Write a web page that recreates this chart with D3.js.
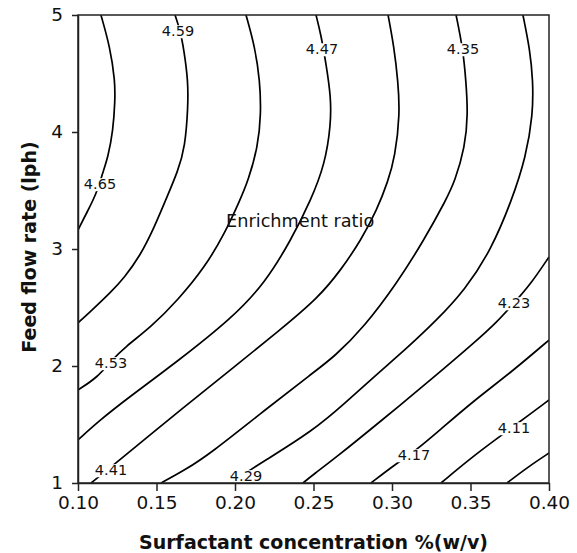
<!DOCTYPE html>
<head>
<meta charset="utf-8">
<title>Enrichment ratio contour</title>
<script type="text/javascript" src="https://d3js.org/d3.v7.min.js"></script>
<style>
  body { margin: 0; background: #fff; }
  text { font-family: "DejaVu Sans", Verdana, sans-serif; fill: #111; }
  .axis path, .axis line { stroke: #222; stroke-width: 1.5; }
  .axis text { font-size: 18.5px; }
  .contour { fill: none; stroke: #000; stroke-width: 1.7; }
  .clabel { font-size: 14.5px; }
  .title { font-weight: bold; font-size: 19px; }
</style>
</head>
<body>
<div id="container"></div>
<script>
//---------------------------- DATA ----------------------------//
// contour levels (left to right)
const levels = [4.65, 4.59, 4.53, 4.47, 4.41, 4.35, 4.29, 4.23, 4.17, 4.11, 4.05];

// each line: [surfactant %(w/v), feed flow rate (lph)]
const c465 = [[0.1146,5.000],[0.1204,4.726],[0.1236,4.436],[0.1236,4.265],[0.1223,4.009],[0.1191,3.786],[0.1159,3.658],[0.1115,3.462],[0.1051,3.299],[0.1000,3.162]];
const c459 = [[0.1618,5.000],[0.1650,4.872],[0.1675,4.701],[0.1701,4.436],[0.1701,4.214],[0.1682,3.872],[0.1637,3.667],[0.1561,3.427],[0.1484,3.179],[0.1395,2.940],[0.1293,2.752],[0.1210,2.632],[0.1083,2.470],[0.1000,2.368]];
const c453 = [[0.2070,5.000],[0.2127,4.726],[0.2159,4.436],[0.2166,4.154],[0.2146,3.872],[0.2083,3.581],[0.2032,3.419],[0.1936,3.137],[0.1809,2.846],[0.1637,2.564],[0.1465,2.333],[0.1299,2.162],[0.1210,2.043],[0.1127,1.906],[0.1000,1.795]];
const c447 = [[0.2516,5.000],[0.2548,4.829],[0.2580,4.581],[0.2611,4.299],[0.2611,4.068],[0.2573,3.726],[0.2484,3.419],[0.2357,3.077],[0.2191,2.709],[0.1981,2.410],[0.1637,2.043],[0.1318,1.726],[0.1140,1.538],[0.1000,1.368]];
const c441 = [[0.2975,5.000],[0.3013,4.726],[0.3038,4.436],[0.3051,4.154],[0.3019,3.786],[0.2975,3.581],[0.2904,3.333],[0.2803,3.077],[0.2675,2.821],[0.2529,2.581],[0.2287,2.308],[0.1955,1.949],[0.1637,1.607],[0.1459,1.410],[0.1318,1.256],[0.1210,1.137],[0.1083,1.000]];
const c435 = [[0.3408,5.000],[0.3452,4.709],[0.3471,4.436],[0.3484,4.154],[0.3465,3.872],[0.3401,3.581],[0.3344,3.419],[0.3204,3.077],[0.3032,2.709],[0.2822,2.333],[0.2631,2.077],[0.2503,1.949],[0.2166,1.598],[0.1847,1.256],[0.1682,1.111],[0.1529,1.000]];
const c429 = [[0.3834,5.000],[0.3879,4.701],[0.3898,4.436],[0.3898,4.154],[0.3853,3.786],[0.3764,3.419],[0.3631,2.991],[0.3465,2.650],[0.3280,2.385],[0.3089,2.145],[0.2898,1.923],[0.2701,1.684],[0.2503,1.453],[0.2166,1.171],[0.2076,1.094],[0.1987,1.000]];
const c423 = [[0.4000,2.932],[0.3879,2.692],[0.3777,2.538],[0.3669,2.376],[0.3522,2.197],[0.3268,1.906],[0.2930,1.530],[0.2631,1.205],[0.2503,1.077],[0.2433,1.000]];
const c417 = [[0.4000,2.222],[0.3777,1.966],[0.3503,1.684],[0.3306,1.453],[0.3140,1.265],[0.3032,1.171],[0.2866,1.000]];
const c411 = [[0.4000,1.709],[0.3777,1.487],[0.3682,1.393],[0.3503,1.214],[0.3312,1.000]];
const c405 = [[0.4000,1.256],[0.3866,1.137],[0.3732,1.000]];

// where the levels are written on the plot
const labelLevels = [4.65, 4.59, 4.53, 4.47, 4.41, 4.35, 4.29, 4.23, 4.17, 4.11];
const labelAt = [[0.1140,3.556],[0.1637,4.863],[0.1210,2.026],[0.2554,4.709],[0.1210,1.111],[0.3452,4.709],[0.2070,1.060],[0.3777,2.538],[0.3140,1.239],[0.3777,1.470]];

const xTicks = [0.10, 0.15, 0.20, 0.25, 0.30, 0.35, 0.40];
const yTicks = [1, 2, 3, 4, 5];

const contours = [c465, c459, c453, c447, c441, c435, c429, c423, c417, c411, c405]
  .map((pts, i) => ({ level: levels[i], pts: pts }));

//---------------------------- SVG -----------------------------//
const W = 577, H = 553;
const margin = {top: 15, right: 28, bottom: 70, left: 78};
const width = W - margin.left - margin.right,
      height = H - margin.top - margin.bottom;

const svg = d3.select("#container").append("svg")
    .attr("width", W)
    .attr("height", H);

const g = svg.append("g")
    .attr("transform", "translate(" + margin.left + "," + margin.top + ")");

const x = d3.scaleLinear().domain([0.1, 0.4]).range([0, width]);
const y = d3.scaleLinear().domain([1, 5]).range([height, 0]);

g.append("clipPath").attr("id", "plot")
  .append("rect").attr("width", width).attr("height", height);

//--------------------------- LINES ----------------------------//
// basis curve smooths the hand-read points
const line = d3.line()
    .x(d => x(d[0]))
    .y(d => y(d[1]))
    .curve(d3.curveBasis);

g.append("g").attr("clip-path", "url(#plot)")
  .selectAll("path")
  .data(contours)
  .enter().append("path")
    .attr("class", "contour")
    .attr("d", d => line(d.pts));

// level labels, with white patch that breaks the line
const labels = g.append("g").selectAll("g")
  .data(labelLevels.map((lv, i) => ({ level: lv, at: labelAt[i] })))
  .enter().append("g")
    .attr("transform", d => "translate(" + x(d.at[0]) + "," + y(d.at[1]) + ")");

labels.append("text")
    .attr("class", "clabel")
    .attr("text-anchor", "middle")
    .attr("dy", "0.36em")
    .text(d => d3.format(".2f")(d.level));

labels.each(function() {
  const t = d3.select(this).select("text");
  const b = t.node().getBBox();
  d3.select(this).insert("rect", "text")
    .attr("x", b.x - 1).attr("y", b.y + 2)
    .attr("width", b.width + 2).attr("height", b.height - 3)
    .attr("fill", "#fff");
});

g.append("text")
    .attr("x", x(0.2415))
    .attr("y", y(3.188))
    .attr("text-anchor", "middle")
    .style("font-size", "17.7px")
    .text("Enrichment ratio");

//---------------------------- AXES ----------------------------//
g.append("g")
    .attr("class", "axis")
    .attr("transform", "translate(0," + height + ")")
    .call(d3.axisBottom(x).tickValues(xTicks).tickFormat(d3.format(".2f"))
          .tickSize(8).tickSizeOuter(0).tickPadding(5));

g.append("g")
    .attr("class", "axis")
    .call(d3.axisLeft(y).tickValues(yTicks).tickFormat(d3.format("d"))
          .tickSize(6).tickSizeOuter(0).tickPadding(9));

g.append("rect")
    .attr("width", width).attr("height", height)
    .attr("fill", "none").attr("stroke", "#222").attr("stroke-width", 1.5);

g.append("text")
    .attr("class", "title")
    .attr("x", width / 2)
    .attr("y", height + 66)
    .attr("text-anchor", "middle")
    .text("Surfactant concentration %(w/v)");

g.append("text")
    .attr("class", "title")
    .attr("transform", "translate(-42," + (height / 2 - 2) + ") rotate(-90)")
    .attr("text-anchor", "middle")
    .text("Feed flow rate (lph)");
</script>
</body>
